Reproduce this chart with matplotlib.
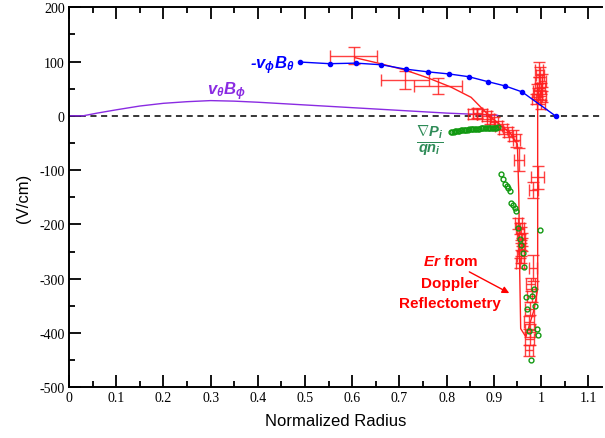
import matplotlib
matplotlib.use("Agg")
import matplotlib.pyplot as plt
from matplotlib.ticker import MultipleLocator

plt.rcParams['mathtext.fontset'] = 'custom'
plt.rcParams['mathtext.bf'] = 'Liberation Sans:bold:italic'
plt.rcParams['mathtext.it'] = 'Liberation Sans:italic'
plt.rcParams['mathtext.rm'] = 'Liberation Sans'
plt.rcParams['axes.unicode_minus'] = False

# -v_phi B_theta (blue dots + curve)
vpb_x = [0.49, 0.552, 0.608, 0.662, 0.713, 0.760, 0.806, 0.847, 0.887, 0.924, 0.960, 1.032]
vpb_y = [99, 96, 97, 94, 86, 81, 77, 72, 63, 55, 44, -1]

# v_theta B_phi (purple)
vtb_x = [0, 0.03, 0.06, 0.1, 0.15, 0.2, 0.25, 0.3, 0.35, 0.4, 0.5, 0.6, 0.7, 0.8, 0.908]
vtb_y = [0, 0, 5, 11, 18, 23, 26, 28, 27, 25, 20, 15, 10, 5, 1]

# grad Pi / q ni (green circles)
gp_x = [0.809, 0.812, 0.815, 0.818, 0.821, 0.824, 0.827, 0.830, 0.833, 0.836, 0.839, 0.842,
        0.845, 0.848, 0.851, 0.854, 0.857, 0.860, 0.863, 0.866, 0.869, 0.872, 0.875, 0.878,
        0.881, 0.884, 0.887, 0.890, 0.893, 0.896, 0.899, 0.902, 0.905, 0.908,
        0.916, 0.920, 0.924, 0.928, 0.931, 0.934, 0.937, 0.941, 0.944, 0.948, 0.951, 0.998,
        0.955, 0.958, 0.962, 0.965, 0.985, 0.968, 0.982, 0.988, 0.971, 0.991, 0.975, 0.994, 0.978]
gp_y = [-30.3, -29.7, -29.2, -28.7, -28.2, -27.8, -27.4, -27.0, -26.6, -26.3, -26.0, -25.7,
        -25.4, -25.1, -24.8, -24.5, -24.2, -24.0, -23.8, -23.6, -23.4, -23.2, -23.0, -22.8,
        -22.6, -22.5, -22.3, -22.2, -22.0, -21.9, -21.8, -21.7, -21.6, -21.5,
        -107, -116, -126, -129, -133, -138, -160, -164, -169, -175, -207, -211,
        -226, -238, -253, -279, -319, -333, -331, -351, -355, -393, -396, -404, -450]

# Er from Doppler reflectometry (red error bars)
er_x = [0.603, 0.712, 0.782,
        0.855, 0.865, 0.875, 0.885, 0.893, 0.900, 0.910, 0.920, 0.930, 0.940, 0.948, 0.953,
        0.990, 0.992, 0.995, 0.998, 1.000, 1.002, 0.996, 1.003, 0.994, 1.000,
        0.993, 0.984,
        0.952, 0.955, 0.957, 0.959, 0.960, 0.958, 0.957, 0.956,
        0.983, 0.978, 0.980, 0.976, 0.975, 0.977, 0.976, 0.975]
er_y = [111, 66, 55,
        4, 5, 3, -1, -6, -12, -18, -24, -30, -37, -45, -81,
        31, 46, 60, 75, 51, 36, 85, 65, 41, 21,
        -113, -136,
        -198, -207, -217, -227, -237, -246, -259, -271,
        -280, -310, -331, -355, -380, -395, -411, -432]
er_xerr = [0.05, 0.05, 0.05,
           0.01, 0.01, 0.01, 0.01, 0.008, 0.008, 0.008, 0.008, 0.008, 0.008, 0.008, 0.01,
           0.008, 0.008, 0.008, 0.008, 0.008, 0.008, 0.008, 0.008, 0.008, 0.008,
           0.014, 0.01,
           0.008, 0.008, 0.008, 0.008, 0.006, 0.006, 0.008, 0.008,
           0.008, 0.01, 0.01, 0.01, 0.01, 0.01, 0.01, 0.008]
er_yerr = [16, 16, 14,
           9, 9, 9, 9, 9, 9, 9, 9, 9, 10, 12, 21,
           10, 12, 12, 14, 10, 10, 14, 12, 10, 8,
           21, 15,
           10, 10, 12, 12, 12, 12, 12, 10,
           24, 12, 12, 12, 12, 12, 12, 10]

# Er fit curve
fit_x = [0.606, 0.66, 0.713, 0.76, 0.809, 0.852, 0.887, 0.915, 0.935, 0.950, 0.953, 0.955,
         0.957, 0.968, 0.985, 0.993, 0.993, 1.0]
fit_y = [107, 96, 84, 70, 53, 34, 3, -18, -32, -52, -144, -290,
         -392, -407, -358, -319, 22, 46]

fig = plt.figure(figsize=(6.05, 4.39), dpi=100)
ax = fig.add_axes([0.114, 0.1155, 0.8816, 0.8658])

ax.axhline(0, color='black', lw=1.1, ls=(0, (4, 3)), zorder=1)
ax.plot(vtb_x, vtb_y, color='#8a2be2', lw=1.0, zorder=2)
ax.plot(fit_x, fit_y, color='#ff2020', lw=1.0, zorder=3)
ax.errorbar(er_x, er_y, xerr=er_xerr, yerr=er_yerr, fmt='none', ecolor='#ff2020',
            elinewidth=1.0, capsize=4, capthick=1.0, alpha=0.85, zorder=3)
ax.plot(gp_x, gp_y, 'o', mfc='none', mec='#119911', ms=3.5, mew=1.0, zorder=4)
ax.plot(vpb_x, vpb_y, '-o', color='#0000ff', lw=1.0, ms=3, zorder=5)

ax.text(0.478, 95, '-' + r'$\mathbf{v_{\phi}B_{\theta}}$', color='#0000ff', fontsize=12,
        ha='right', va='center', family='Liberation Sans', fontweight='bold', style='italic')
ax.text(0.333, 46, r'$\mathbf{v_{\theta}B_{\phi}}$', color='#8a2be2', fontsize=12,
        ha='center', va='center')
ax.text(0.765, -46, r'$\mathbf{\frac{\nabla P_i}{q n_i}}$', color='#2e8b57', fontsize=15,
        ha='center', va='center')

ax.text(0.808, -267, r'$\mathbf{Er}$' + ' from', color='red', fontsize=11, fontweight='bold',
        ha='center', va='center', family='Liberation Sans')
ax.text(0.808, -307, 'Doppler', color='red', fontsize=11, fontweight='bold',
        ha='center', va='center', family='Liberation Sans')
ax.text(0.808, -345, 'Reflectometry', color='red', fontsize=11, fontweight='bold',
        ha='center', va='center', family='Liberation Sans')
ax.annotate('', xy=(0.938, -329), xytext=(0.843, -285),
            arrowprops=dict(arrowstyle='-|>', color='red', lw=1.0, mutation_scale=10))

ax.set_xlim(0, 1.13)
ax.set_ylim(-500, 200)
ax.xaxis.set_minor_locator(MultipleLocator(0.05))
ax.yaxis.set_major_locator(MultipleLocator(100))
ax.yaxis.set_minor_locator(MultipleLocator(50))
ax.set_xticks([0, 0.1, 0.2, 0.3, 0.4, 0.5, 0.6, 0.7, 0.8, 0.9, 1.0, 1.1])
ax.set_xticklabels(['0', '0.1', '0.2', '0.3', '0.4', '0.5', '0.6', '0.7', '0.8', '0.9', '1', '1.1'])
ax.tick_params(which='both', direction='in', top=True, right=False, width=1.3,
               labelsize=10, labelfontfamily='Liberation Serif', pad=3)
ax.tick_params(which='major', length=8.5)
ax.tick_params(which='minor', length=4.2)
ax.spines['right'].set_visible(False)
for s in ['left', 'top', 'bottom']:
    ax.spines[s].set_linewidth(1.4)

ax.set_xlabel('Normalized Radius', fontsize=12, family='Liberation Sans', labelpad=6)
ax.set_ylabel('(V/cm)', fontsize=12, family='Liberation Sans', labelpad=6)

fig.savefig('out.png', dpi=100)
